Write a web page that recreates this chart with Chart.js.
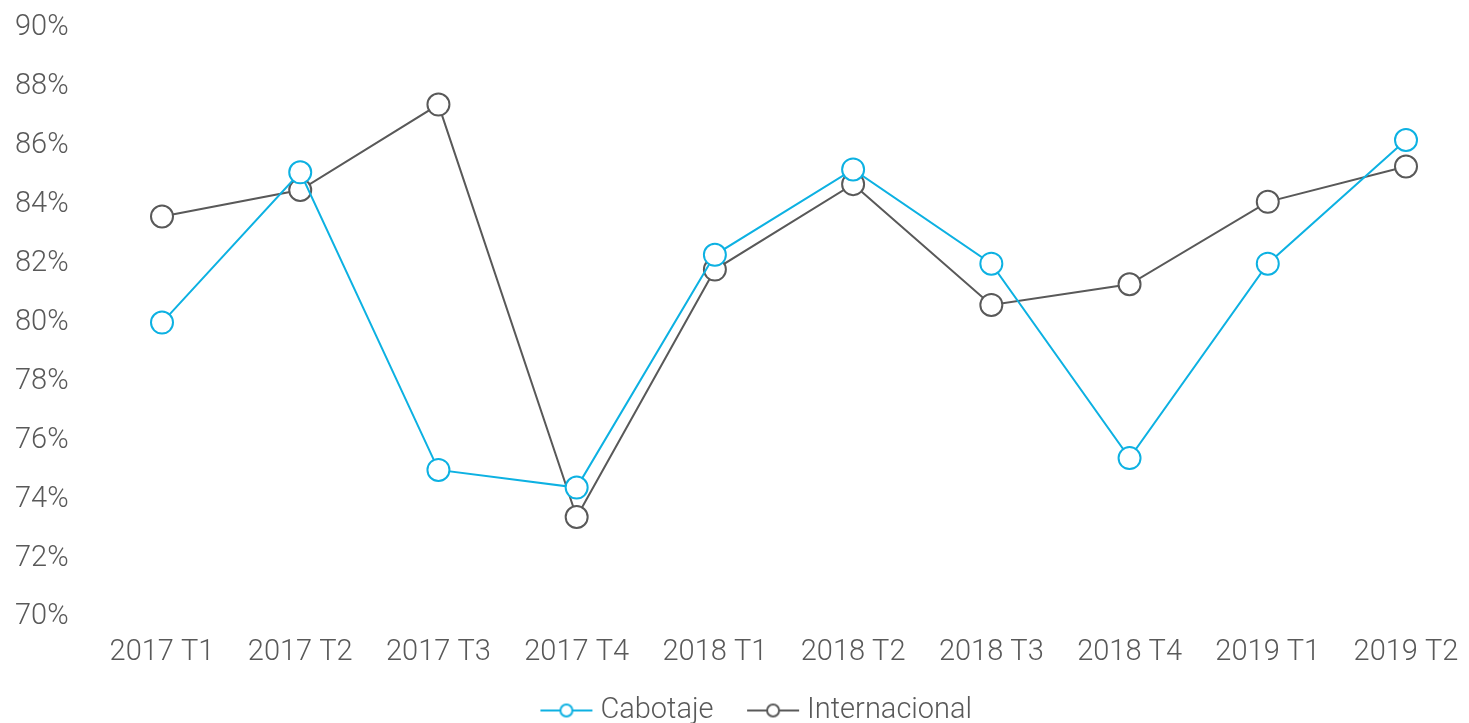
<!DOCTYPE html>
<html lang="es">
<head>
  <meta charset="UTF-8">
  <title>Cabotaje vs Internacional</title>
  <script src="https://cdn.jsdelivr.net/npm/chart.js"></script>
  <style>
    html, body {
      margin: 0;
      padding: 0;
      background: #ffffff;
      overflow: hidden;
    }
    #chart-container {
      width: 1469px;
      height: 723px;
    }
    canvas { display: block; }
  </style>
</head>
<body>
  <div id="chart-container">
    <canvas id="lineChart"></canvas>
  </div>

  <script>
    // data
    const trimestres = ['2017 T1', '2017 T2', '2017 T3', '2017 T4', '2018 T1', '2018 T2', '2018 T3', '2018 T4', '2019 T1', '2019 T2'];
    const cabotaje = [80.0, 85.1, 75.0, 74.4, 82.3, 85.2, 82.0, 75.4, 82.0, 86.2];
    const internacional = [83.6, 84.5, 87.4, 73.4, 81.8, 84.7, 80.6, 81.3, 84.1, 85.3];

    const CYAN = '#0db1e2';
    const GREY = '#595959';

    // line + circle marker for the legend; blank on the left makes the gap between items
    function legendMarker(color) {
      const c = document.createElement('canvas');
      c.width = 100;
      c.height = 16;
      const g = c.getContext('2d');
      g.strokeStyle = color;
      g.lineWidth = 2;
      g.beginPath();
      g.moveTo(40, 8);
      g.lineTo(92, 8);
      g.stroke();
      g.beginPath();
      g.arc(66, 8, 6, 0, Math.PI * 2);
      g.fillStyle = '#ffffff';
      g.fill();
      g.stroke();
      return c;
    }

    // nudge the legend row to the right, as in the original
    const legendShift = {
      id: 'legendShift',
      afterLayout: function(chart) {
        if (chart.legend) {
          chart.legend.left += 33;
          chart.legend.right += 33;
        }
      }
    };

    Chart.defaults.font.family = 'Roboto, sans-serif';
    Chart.defaults.font.weight = 300;
    Chart.defaults.font.size = 29;
    Chart.defaults.color = GREY;

    const ctx = document.getElementById('lineChart').getContext('2d');
    new Chart(ctx, {
      type: 'line',
      data: {
        labels: trimestres,
        datasets: [
          {
            label: 'Cabotaje',
            data: cabotaje,
            borderColor: CYAN,
            backgroundColor: '#ffffff',
            pointBorderColor: CYAN,
            pointBackgroundColor: '#ffffff',
            borderWidth: 2,
            pointRadius: 11,
            pointBorderWidth: 2,
            tension: 0,
            fill: false
          },
          {
            label: 'Internacional',
            data: internacional,
            borderColor: GREY,
            backgroundColor: '#ffffff',
            pointBorderColor: GREY,
            pointBackgroundColor: '#ffffff',
            borderWidth: 2,
            pointRadius: 11,
            pointBorderWidth: 2,
            tension: 0,
            fill: false
          }
        ]
      },
      plugins: [legendShift],
      options: {
        responsive: true,
        maintainAspectRatio: false,
        animation: false,
        layout: {
          padding: { left: 15, right: 63, top: 28, bottom: -12 }
        },
        plugins: {
          tooltip: { enabled: false },
          legend: {
            position: 'bottom',
            labels: {
              usePointStyle: true,
              pointStyleWidth: 71,
              padding: 8,
              color: GREY,
              font: { size: 29, weight: 300 },
              generateLabels: function(chart) {
                return chart.data.datasets.map(function(ds, i) {
                  return {
                    text: ds.label,
                    fillStyle: '#ffffff',
                    strokeStyle: ds.borderColor,
                    fontColor: GREY,
                    lineWidth: 0,
                    pointStyle: legendMarker(ds.borderColor),
                    hidden: false,
                    datasetIndex: i
                  };
                });
              }
            }
          }
        },
        scales: {
          x: {
            offset: false,
            grid: { display: false, drawTicks: false },
            border: { display: false },
            afterFit: function(scale) { scale.paddingLeft = 0; scale.paddingRight = 0; },
            ticks: { padding: 18, maxRotation: 0, autoSkip: false }
          },
          y: {
            min: 70,
            max: 90,
            grid: { display: false, drawTicks: false },
            border: { display: false },
            afterFit: function(scale) { scale.width = 147; scale.paddingTop = 0; scale.paddingBottom = 0; },
            ticks: {
              stepSize: 2,
              crossAlign: 'far',
              padding: 0,
              callback: function(v) { return v + '%'; }
            }
          }
        }
      }
    });
  </script>
</body>
</html>
